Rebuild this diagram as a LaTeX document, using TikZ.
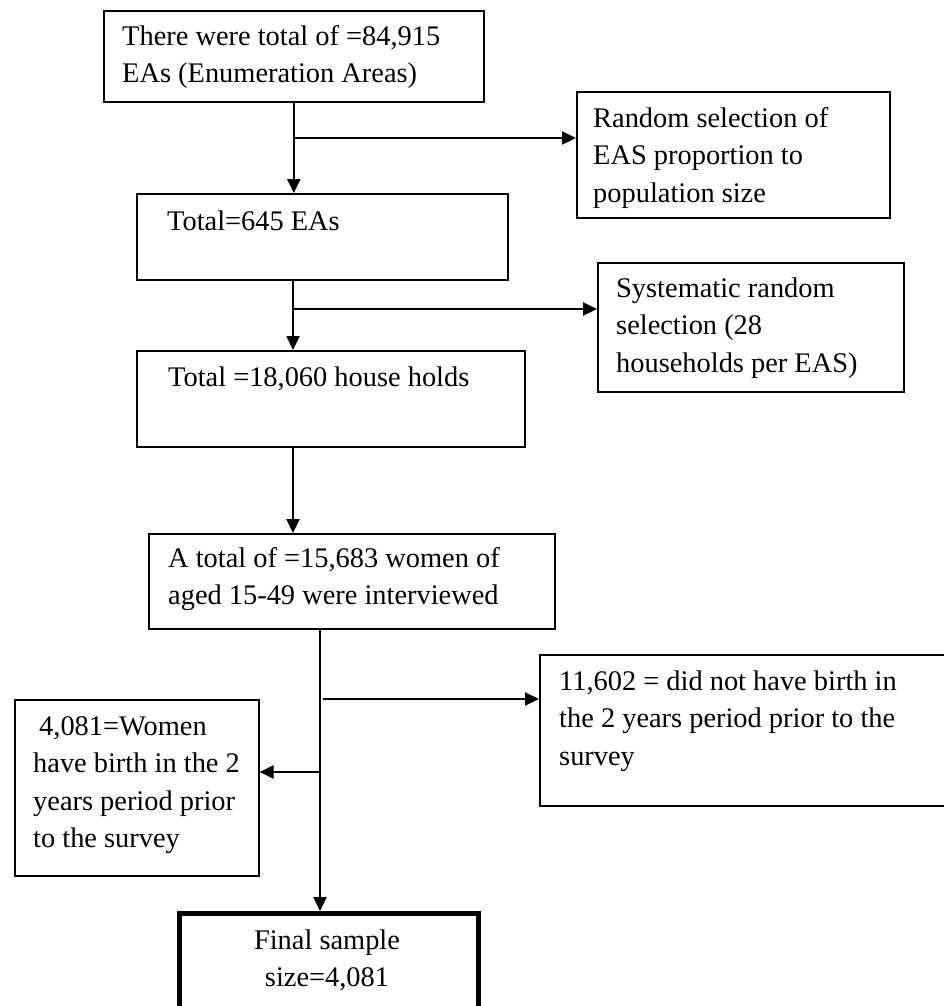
\documentclass[tikz,border=0pt]{standalone}
\usepackage{fontspec}
\setmainfont{Liberation Serif}
\usetikzlibrary{arrows.meta}
\newcommand{\tstrut}{\rule{0pt}{22pt}}
\begin{document}
\begin{tikzpicture}[x=1pt, y=-1pt,
  sampbox/.style={draw, line width=1.6pt, rectangle, anchor=north west, inner sep=0pt},
  sampfinal/.style={sampbox, line width=4.5pt},
  samptxt/.style={anchor=north west, inner sep=0pt, align=left,
    font=\fontsize{28.4}{37.5}\selectfont},
  samparr/.style={line width=2.2pt, -{Triangle[length=14pt,width=13pt]}}]
  \useasboundingbox (0,0) rectangle (944,1006);
  % boxes
  \node[sampbox, minimum width=380pt, minimum height=91pt]  (ea)      at (103,10)  {};
  \node[sampbox, minimum width=313pt, minimum height=126pt] (random)  at (576,91)  {};
  \node[sampbox, minimum width=371pt, minimum height=86pt]  (eas)     at (136,193) {};
  \node[sampbox, minimum width=306pt, minimum height=129pt] (system)  at (597,262) {};
  \node[sampbox, minimum width=388pt, minimum height=96pt]  (hh)      at (136,350) {};
  \node[sampbox, minimum width=406pt, minimum height=95pt]  (women)   at (148,533) {};
  \node[sampbox, minimum width=411pt, minimum height=151pt] (nobirth) at (539,654) {};
  \node[sampbox, minimum width=244pt, minimum height=176pt] (birth)   at (14,699)  {};
  \node[sampfinal, minimum width=299pt, minimum height=110pt] (final) at (177,911) {};
  % texts
  \node[samptxt] (ea-t)      at (122,23)  {\tstrut There were total of =84,915\\EAs (Enumeration Areas)};
  \node[samptxt] (random-t)  at (593,105) {\tstrut Random selection of\\EAS proportion to\\population size};
  \node[samptxt] (eas-t)     at (167,208) {\tstrut Total=645 EAs};
  \node[samptxt] (system-t)  at (616,275) {\tstrut Systematic random\\selection (28\\households per EAS)};
  \node[samptxt] (hh-t)      at (168,364) {\tstrut Total =18,060 house holds};
  \node[samptxt] (women-t)   at (168,545) {\tstrut A total of =15,683 women of\\aged 15-49 were interviewed};
  \node[samptxt] (nobirth-t) at (559,668) {\tstrut 11,602 = did not have birth in\\the 2 years period prior to the\\survey};
  \node[samptxt] (birth-t)   at (33,713)  {\tstrut\hspace{6pt}4,081=Women\\have birth in the 2\\years period prior\\to the survey};
  \node[samptxt, anchor=north, align=center] (final-t) at (327,927) {\tstrut Final sample\\size=4,081};
  % junctions
  \coordinate (j1) at (293,138);
  \coordinate (j2) at (293,309);
  \coordinate (j3) at (320,699);
  \coordinate (j4) at (320,772);
  % arrows
  \draw[samparr] (ea.south) -- (ea.south |- eas.north);
  \draw[samparr] (j1) -- (j1 -| random.west);
  \draw[samparr] (j2 |- eas.south) -- (j2 |- hh.north);
  \draw[samparr] (j2) -- (j2 -| system.west);
  \draw[samparr] (j2 |- hh.south) -- (j2 |- women.north);
  \draw[samparr] (j3 |- women.south) -- (j3 |- final.north);
  \draw[samparr] ([xshift=3pt]j3) -- (j3 -| nobirth.west);
  \draw[samparr] (j4) -- (j4 -| birth.east);
\end{tikzpicture}
\end{document}
